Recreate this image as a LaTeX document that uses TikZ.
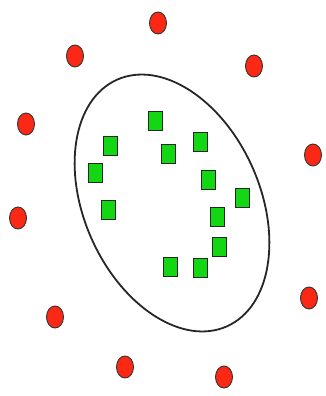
\documentclass[tikz,border=0pt]{standalone}
\usepackage{tikz}
\usetikzlibrary{shapes.geometric}
\definecolor{ptred}{RGB}{250,40,20}
\definecolor{ptgreen}{RGB}{20,215,20}

\begin{document}
\begin{tikzpicture}[x=1pt,y=-1pt,
    redpt/.style={ellipse,draw=black!80,fill=ptred,line width=0.9pt,minimum width=17pt,minimum height=22pt,inner sep=0pt},
    greenpt/.style={rectangle,draw=black!85,fill=ptgreen,line width=1pt,minimum width=14pt,minimum height=19pt,inner sep=0pt}]
      \useasboundingbox (0,0) rectangle (326,396);
      % Outliers
      \foreach \p [count=\i] in {(158,23),(75,56),(254,66),(26,124),(313,155),(18,218),(309,298),(55,317),(125,367),(224,377)}
        \node[redpt] (r\i) at \p {};
      % Boundary
      \draw[black!85,line width=1.8pt,rotate around={24:(172,203)}] (172,203) ellipse [x radius=88,y radius=135];
      % Inliers
      \foreach \p [count=\i] in {(155,121),(110,146),(200,142),(168,154),(95,173),(208,180),(242,198),(108,210),(217,217),(219,247),(170,267),(200,268)}
        \node[greenpt] (g\i) at \p {};
    \end{tikzpicture}
\end{document}
